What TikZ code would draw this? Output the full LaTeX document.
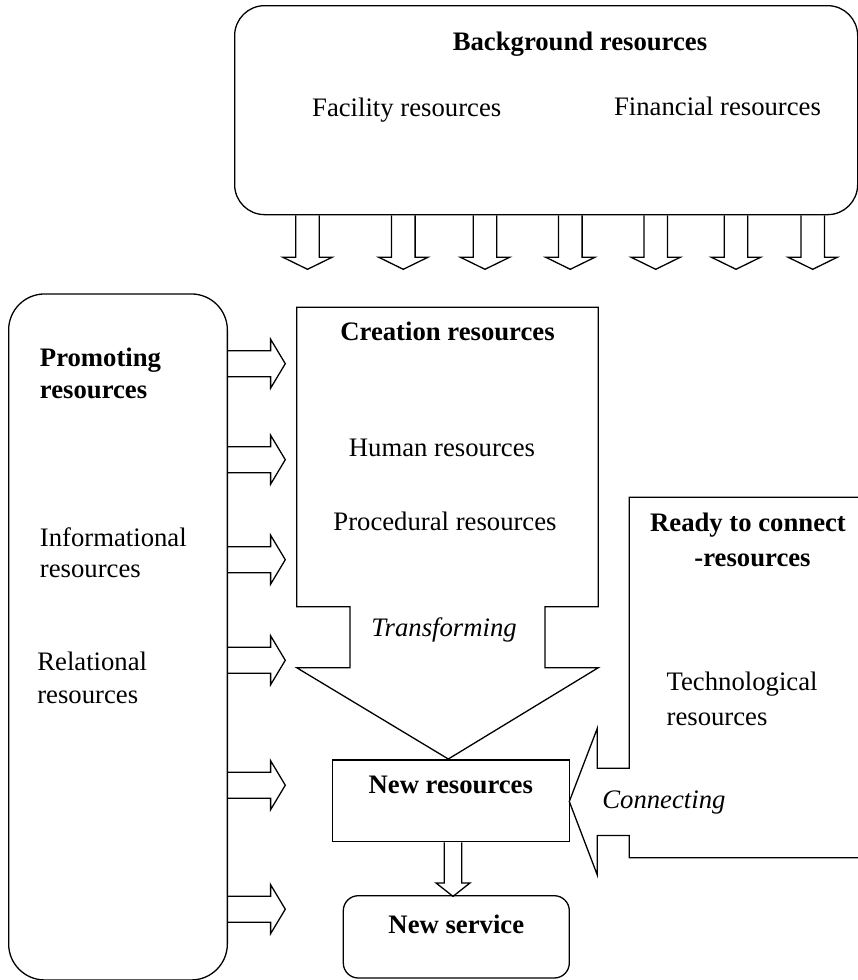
\documentclass[tikz,border=0pt]{standalone}
\usepackage{fontspec}
\setmainfont{Liberation Serif}
\usetikzlibrary{calc}
\begin{document}
\begin{tikzpicture}[x=1pt,y=-1pt,
  line width=1.3pt, line join=miter,
  every node/.style={inner sep=0pt, font=\fontsize{26.7}{33}\selectfont},
  bfont/.style={font=\fontsize{26.7}{33}\selectfont\bfseries},
  ifont/.style={font=\fontsize{26.7}{33}\selectfont\itshape},
  frame/.style={draw, line width=1.3pt},
  blk/.style={draw, line width=1.3pt},
  pics/downblk/.style={code={\draw[blk] (-11.8,0) -- (-11.8,42) -- (-24.5,42) -- (0,54) -- (24.5,42) -- (11.8,42) -- (11.8,0);}},
  pics/rightblk/.style={code={\draw[blk] (0,-13) -- (42.6,-13) -- (42.6,-24.5) -- (57.3,0) -- (42.6,24.5) -- (42.6,13) -- (0,13);}},
  pics/smalldown/.style={code={\draw[blk] (-8.7,0) -- (-8.7,40.6) -- (-17,40.6) -- (0,54) -- (17,40.6) -- (8.7,40.6) -- (8.7,0);}}
]
\useasboundingbox (0,0) rectangle (858,980);

% Background resources box
\node[frame, rounded corners=30pt, minimum width=623pt, minimum height=209pt, anchor=north west] (bg) at (234,5) {};
\node[bfont, anchor=base] (bgt) at (580,50.7) {Background resources};
\node[anchor=base] (fac) at (406.7,116.7) {Facility resources};
\node[anchor=base] (fin) at (717.5,115) {Financial resources};

\foreach \xx in {307.5,403.3,485,570.3,655.7,736,812.7}
  \pic at (\xx,0 |- bg.south) {downblk};

% Promoting resources box
\node[frame, rounded corners=36pt, minimum width=218.7pt, minimum height=686pt, anchor=north west] (pr) at (8,293.3) {};
\node[bfont, anchor=base west] (pr1) at (39.3,366) {Promoting};
\node[bfont, anchor=base west] (pr2) at (39.3,398.3) {resources};
\node[anchor=base west] (inf1) at (39.3,546.7) {Informational};
\node[anchor=base west] (inf2) at (39.3,577.5) {resources};
\node[anchor=base west] (rel1) at (36.7,670) {Relational};
\node[anchor=base west] (rel2) at (36.7,703.3) {resources};

\foreach \yy in {363.7,459.7,559.7,660.3,785.2,909.2}
  \pic at (pr.east |- 0,\yy) {rightblk};

% Creation resources arrow shape
\draw (296.7,307.3) -- (598.3,307.3) -- (598.3,606.7) -- (545,606.7) -- (545,667.7)
  -- (598.3,667.7) -- (448.3,759) -- (296.7,667.7) -- (350,667.7) -- (350,606.7)
  -- (296.7,606.7) -- cycle;
\node[bfont, anchor=base] (cr) at (447.5,340) {Creation resources};
\node[anchor=base] (hum) at (442,456) {Human resources};
\node[anchor=base] (proc) at (445,530) {Procedural resources};
\node[ifont, anchor=base] (tr) at (444,636.7) {Transforming};

% Ready to connect shape
\draw (860,497.3) -- (629.3,497.3) -- (629.3,768.3) -- (597.3,768.3) -- (597.3,728.3)
  -- (569.3,801.5) -- (597.3,875) -- (597.3,835.5) -- (629.3,835.5) -- (629.3,857.7)
  -- (860,857.7);
\node[bfont, anchor=base] (rd1) at (748,531.7) {Ready to connect};
\node[bfont, anchor=base] (rd2) at (752.5,566.7) {-resources};
\node[anchor=base west] (tec1) at (666,690) {Technological};
\node[anchor=base west] (tec2) at (666,725) {resources};
\node[ifont, anchor=base west] (con) at (601.7,808.3) {Connecting};

% New resources
\node[frame, bfont, anchor=base, minimum width=237pt, text height=33.3pt, text depth=48.4pt] (nr) at (450.8,793.3) {New resources};
% New service
\node[frame, bfont, anchor=base, rounded corners=15pt, minimum width=226pt, text height=37.6pt, text depth=44.7pt] (ns) at (456.3,933.3) {New service};

\pic at (453,0 |- nr.south) {smalldown};
\end{tikzpicture}
\end{document}
